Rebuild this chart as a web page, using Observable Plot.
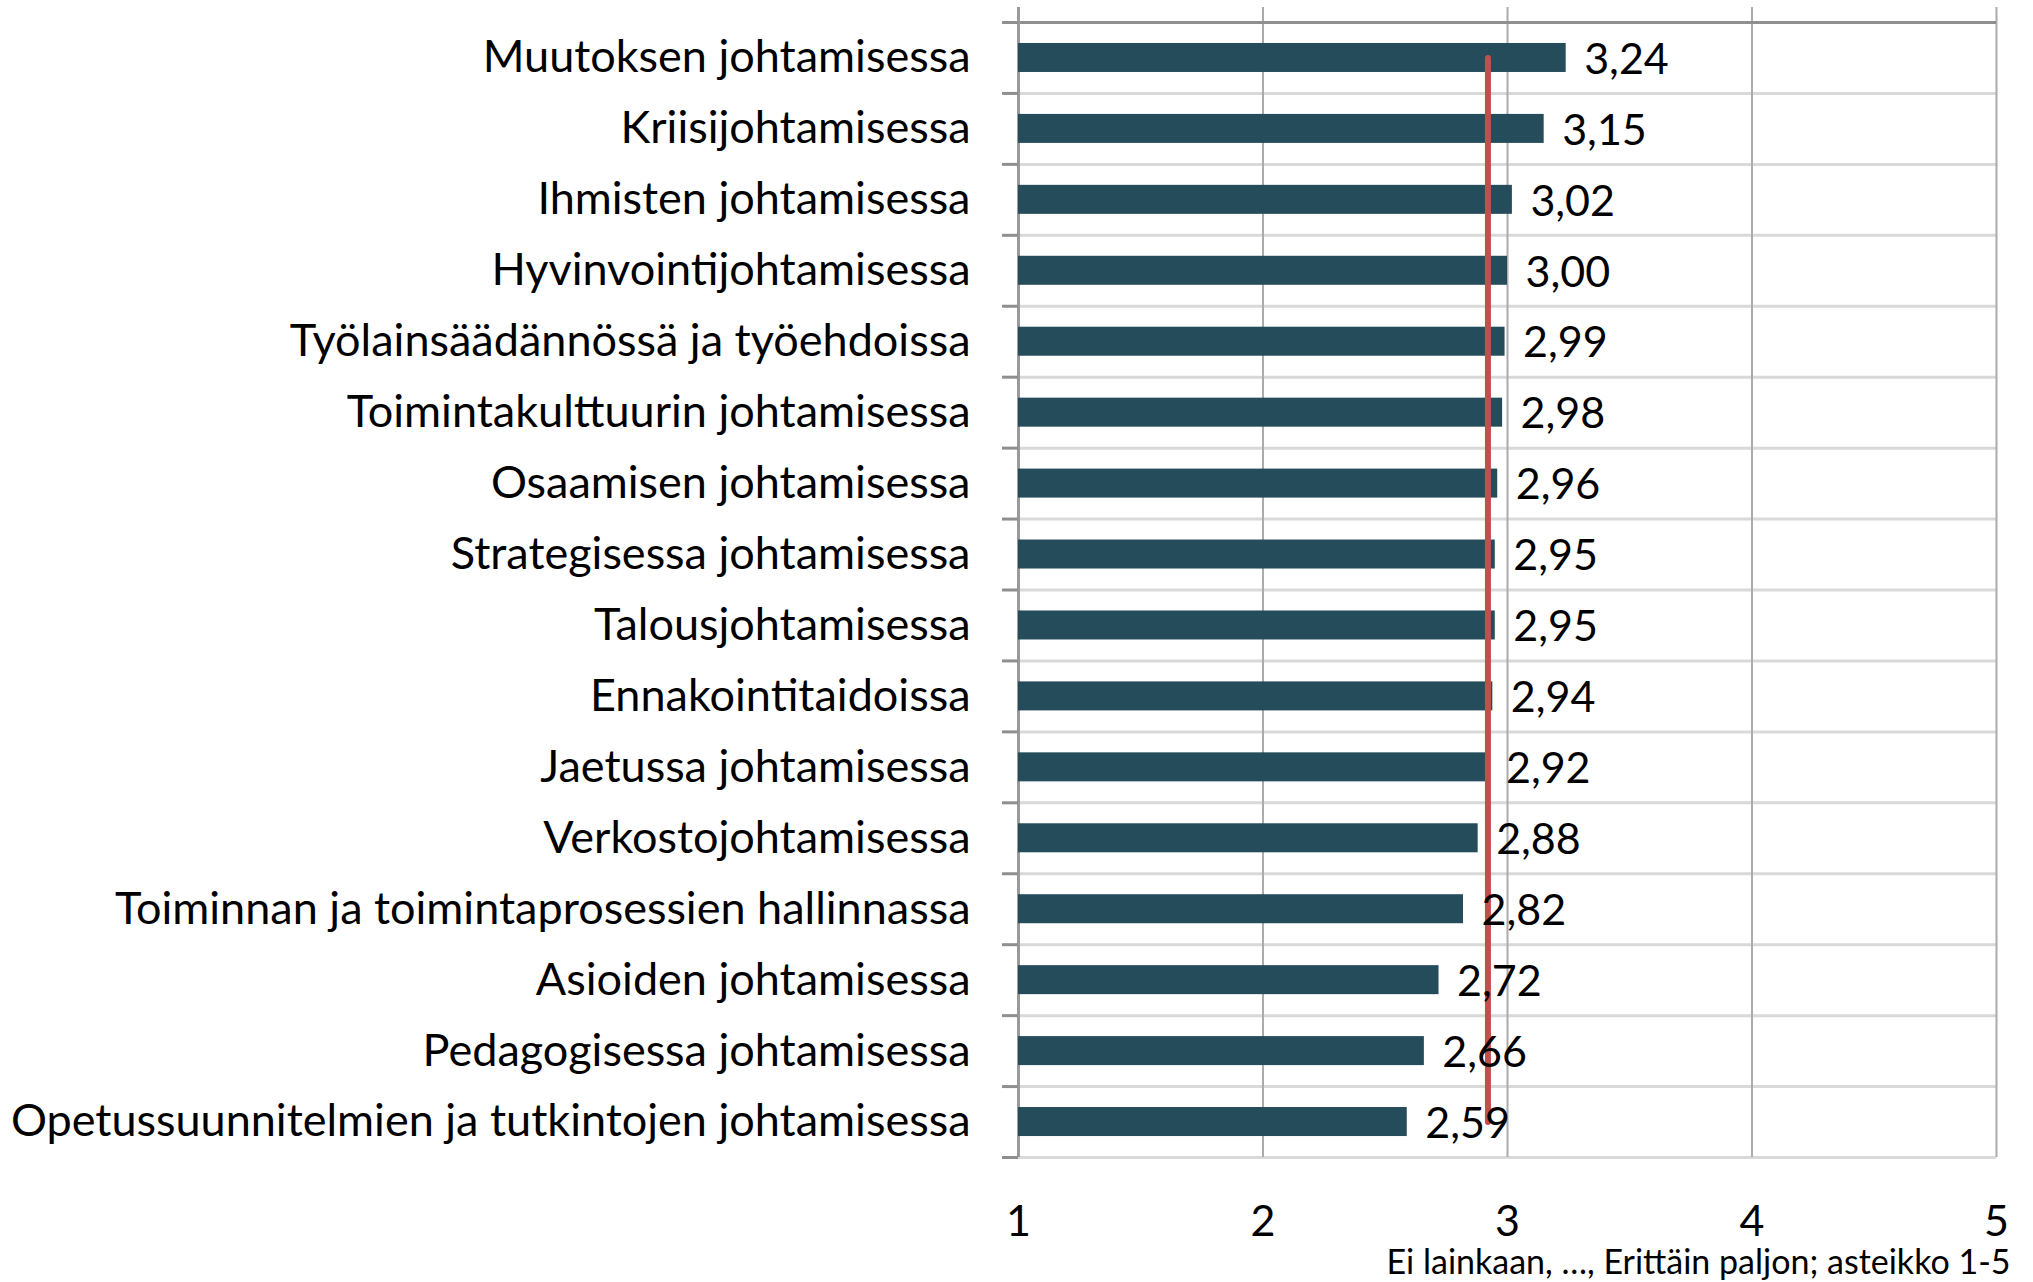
<!DOCTYPE html>
<html>
<head>
<meta charset="utf-8">
<script src="https://cdn.jsdelivr.net/npm/d3@7"></script>
<script src="https://cdn.jsdelivr.net/npm/@observablehq/plot@0.6"></script>
<style>
  html, body { margin: 0; padding: 0; background: #fff; }
  svg { display: block; }
</style>
</head>
<body>
<div id="chart"></div>
<script>
const categories = [
  "Muutoksen johtamisessa",
  "Kriisijohtamisessa",
  "Ihmisten johtamisessa",
  "Hyvinvointijohtamisessa",
  "Työlainsäädännössä ja työehdoissa",
  "Toimintakulttuurin johtamisessa",
  "Osaamisen johtamisessa",
  "Strategisessa johtamisessa",
  "Talousjohtamisessa",
  "Ennakointitaidoissa",
  "Jaetussa johtamisessa",
  "Verkostojohtamisessa",
  "Toiminnan ja toimintaprosessien hallinnassa",
  "Asioiden johtamisessa",
  "Pedagogisessa johtamisessa",
  "Opetussuunnitelmien ja tutkintojen johtamisessa"
];
const values = [3.24, 3.15, 3.02, 3.00, 2.99, 2.98, 2.96, 2.95, 2.95, 2.94, 2.92, 2.88, 2.82, 2.72, 2.66, 2.59];
const average = 2.92;
const xTicks = [1, 2, 3, 4, 5];
const caption = "Ei lainkaan, …, Erittäin paljon; asteikko 1-5";

const data = categories.map((c, i) => ({category: c, value: values[i]}));
const fmt = v => d3.format(".2f")(v).replace(".", ",");

const W = 2033, H = 1282;
const mTop = 22, mBottom = 125, mLeft = 1018, mRight = 37;
const bw = (H - mTop - mBottom) / categories.length;
const barH = 29;
const inset = (bw - barH) / 2;
const font = "Lato, 'Open Sans', sans-serif";
const first = categories[0], last = categories[categories.length - 1];

const chart = Plot.plot({
  width: W,
  height: H,
  marginTop: mTop,
  marginBottom: mBottom,
  marginLeft: mLeft,
  marginRight: mRight,
  style: {fontFamily: font, fontSize: "45px", color: "#000", background: "#fff"},
  x: {domain: [1, 5]},
  y: {type: "band", domain: categories, padding: 0, round: false},
  marks: [
    // light horizontal separators between categories
    Plot.ruleY(categories, {y: d => d, x1: 1, x2: 5, dy: -bw / 2, stroke: "#D9D9D9", strokeWidth: 3}),
    Plot.ruleY([last], {y: d => d, x1: 1, x2: 5, dy: bw / 2, stroke: "#D9D9D9", strokeWidth: 3}),
    // vertical gridlines
    Plot.ruleX(xTicks, {x: d => d, stroke: "#ABABAB", strokeWidth: 2, insetTop: -15}),
    // top axis line
    Plot.ruleY([first], {y: d => d, x1: 1, x2: 5, dy: -bw / 2, stroke: "#8F8F8F", strokeWidth: 3, insetLeft: -16}),
    // left axis line and tick marks
    Plot.ruleX([1], {x: d => d, stroke: "#9A9A9A", strokeWidth: 3, insetTop: -15}),
    Plot.ruleY(categories, {y: d => d, x1: 1, x2: 1, dy: -bw / 2, insetLeft: -16, stroke: "#8F8F8F", strokeWidth: 3}),
    Plot.ruleY([last], {y: d => d, x1: 1, x2: 1, dy: bw / 2, insetLeft: -16, stroke: "#8F8F8F", strokeWidth: 3}),
    // bars
    Plot.barX(data, {x1: 1, x2: "value", y: "category", fill: "#254C5A", insetTop: inset, insetBottom: inset}),
    // average line
    Plot.line([{x: average, y: first}, {x: average, y: last}], {x: "x", y: "y", stroke: "#C0504D", strokeWidth: 6, strokeLinecap: "round"}),
    // value labels
    Plot.text(data, {x: "value", y: "category", text: d => fmt(d.value), textAnchor: "start", dx: 18, dy: 2, fontSize: 43, fill: "#000"}),
    // axes
    Plot.axisY({tickSize: 0, tickPadding: 48, fontSize: 45, label: null}),
    Plot.axisX(xTicks, {tickSize: 0, tickPadding: 48, fontSize: 43, label: null, tickFormat: d => String(d)}),
    // caption
    Plot.text([caption], {frameAnchor: "bottom-right", text: d => d, textAnchor: "end", lineAnchor: "middle", dx: 14, dy: 106, fontSize: 34, fill: "#000"})
  ]
});

document.getElementById("chart").appendChild(chart);
</script>
</body>
</html>
